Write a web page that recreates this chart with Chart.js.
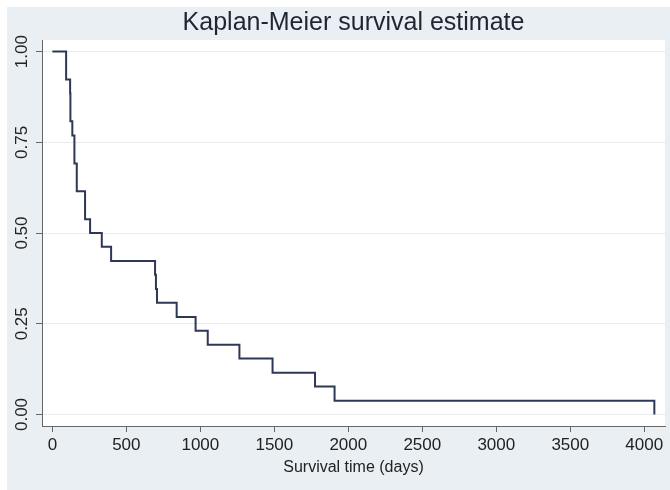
<!DOCTYPE html>
<html><head><meta charset="utf-8">
<script src="https://cdn.jsdelivr.net/npm/chart.js@4/dist/chart.umd.min.js"></script>
<style>html,body{margin:0;padding:0;background:#fff;} #wrap{width:670px;height:490px;position:relative;} canvas{display:block;}</style>
</head><body><div id="wrap"><canvas id="c" width="670" height="490"></canvas></div>
<script>
// Kaplan-Meier step data (event times in days, survival after each event)
const times = [0, 93, 120, 122, 135, 149, 165, 221, 255, 334, 397, 694, 700, 707, 840, 968, 1050, 1264, 1488, 1775, 1907, 4068];
const survival = [1.000, 0.923, 0.885, 0.808, 0.769, 0.692, 0.615, 0.538, 0.500, 0.462, 0.423, 0.385, 0.346, 0.308, 0.269, 0.231, 0.192, 0.154, 0.115, 0.077, 0.038, 0.000];
const xTicks = [0, 500, 1000, 1500, 2000, 2500, 3000, 3500, 4000];
const yTicks = [0, 0.25, 0.5, 0.75, 1];
const yTickLabels = ['0.00', '0.25', '0.50', '0.75', '1.00'];
const titleText = 'Kaplan-Meier survival estimate';
const xTitle = 'Survival time (days)';

const FONT = "'Liberation Sans', Arial, Helvetica, sans-serif";
Chart.defaults.font.family = FONT;

const bgPlugin = {
  id: 'bg',
  beforeDraw(chart) {
    const ctx = chart.ctx, a = chart.chartArea;
    ctx.save();
    ctx.fillStyle = '#ffffff';
    ctx.fillRect(0, 0, chart.width, chart.height);
    ctx.fillStyle = '#e9eff3';
    ctx.fillRect(7, 7, chart.width - 7, chart.height - 7);
    ctx.fillStyle = '#ffffff';
    ctx.fillRect(a.left, a.top, a.right - a.left, a.bottom - a.top);
    ctx.restore();
  },
  afterDraw(chart) {
    const ctx = chart.ctx, ys = chart.scales.y;
    ctx.save();
    ctx.fillStyle = '#222';
    ctx.font = '17px ' + FONT;
    ctx.textAlign = 'center';
    ctx.textBaseline = 'alphabetic';
    yTicks.forEach((v, i) => {
      const py = ys.getPixelForValue(v);
      ctx.save();
      ctx.translate(27, py);
      ctx.rotate(-Math.PI / 2);
      ctx.fillText(yTickLabels[i], 0, 0);
      ctx.restore();
    });
    ctx.restore();
  }
};

new Chart(document.getElementById('c'), {
  type: 'line',
  data: {
    datasets: [{
      data: times.map((t, i) => ({x: t, y: survival[i]})),
      stepped: true,
      borderColor: '#2d3857',
      borderWidth: 2,
      pointRadius: 0,
      fill: false,
      tension: 0
    }]
  },
  options: {
    responsive: false,
    animation: false,
    devicePixelRatio: 1,
    layout: {padding: {left: 0, right: 5, top: 0, bottom: 0}},
    plugins: {
      legend: {display: false},
      tooltip: {enabled: false},
      title: {
        display: true,
        text: titleText,
        fullSize: false,
        color: '#1f2633',
        font: {size: 25, weight: 'normal', family: FONT, lineHeight: 1.2},
        padding: {top: 8, bottom: 2}
      }
    },
    scales: {
      x: {
        type: 'linear',
        min: -70,
        max: 4140,
        afterBuildTicks: s => { s.ticks = xTicks.map(v => ({value: v})); },
        afterFit: s => { s.height = 64; },
        ticks: {
          color: '#222',
          font: {size: 17, family: FONT},
          padding: 3,
          maxRotation: 0,
          autoSkip: false,
          callback: v => String(v)
        },
        grid: {drawOnChartArea: false, drawTicks: true, tickLength: 6, tickColor: '#666', tickWidth: 1},
        border: {color: '#666', width: 1},
        title: {
          display: true,
          text: xTitle,
          color: '#222',
          font: {size: 16, family: FONT, lineHeight: 1.2},
          padding: {top: 0, bottom: 13}
        }
      },
      y: {
        type: 'linear',
        min: -0.0317,
        max: 1.032,
        afterBuildTicks: s => { s.ticks = yTicks.map(v => ({value: v})); },
        afterFit: s => { s.width = 42; },
        ticks: {display: false},
        grid: {color: '#e6ebee', lineWidth: 1, drawTicks: true, tickLength: 6, tickColor: '#666', tickWidth: 1},
        border: {color: '#666', width: 1}
      }
    }
  },
  plugins: [bgPlugin]
});
</script>
</body></html>
